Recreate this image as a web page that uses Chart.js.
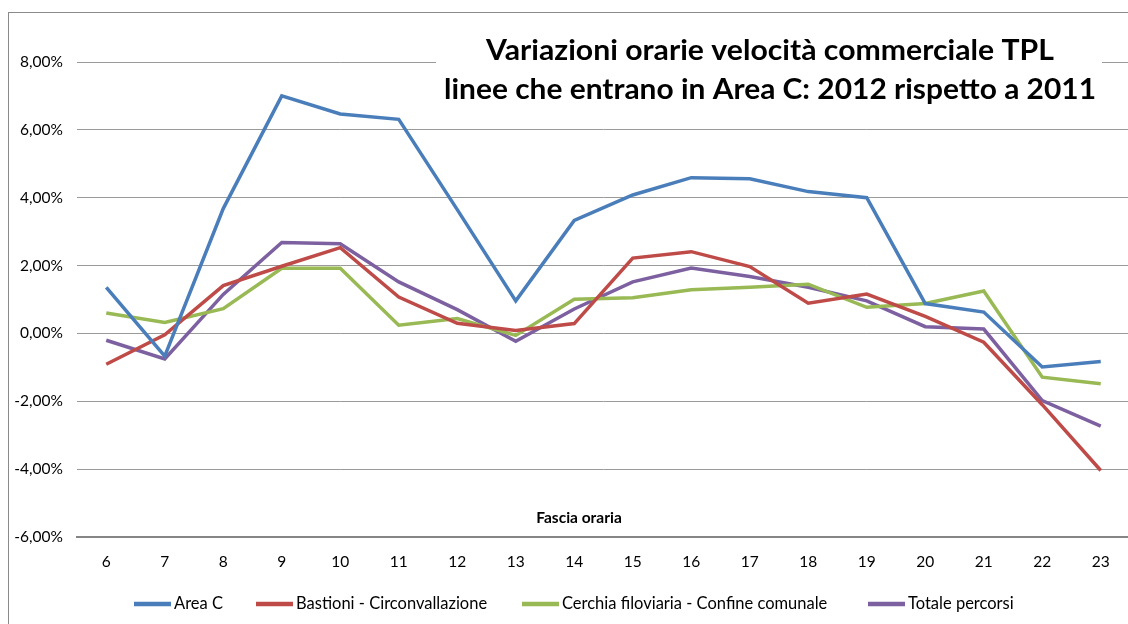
<!DOCTYPE html>
<html>
<head>
<meta charset="utf-8">
<script src="https://cdn.jsdelivr.net/npm/chart.js@4"></script>
<style>
  html, body { margin: 0; padding: 0; background: #fff; overflow: hidden; }
  #wrap { position: relative; width: 1128px; height: 624px; overflow: hidden; }
  #frame { position: absolute; left: 8px; top: 12px; width: 1200px; height: 700px;
           border-left: 1px solid #8a8a8a; border-top: 1px solid #8a8a8a; }
  canvas { position: absolute; left: 0; top: 0; }
</style>
</head>
<body>
<div id="wrap">
  <div id="frame"></div>
  <canvas id="myChart" width="1140" height="624"></canvas>
</div>
<script>
const hours = ["6", "7", "8", "9", "10", "11", "12", "13", "14", "15", "16", "17", "18", "19", "20", "21", "22", "23"];
const seriesNames = ["Area C", "Bastioni - Circonvallazione", "Cerchia filoviaria - Confine comunale", "Totale percorsi"];
const areaC = [1.36, -0.67, 3.68, 7.0, 6.47, 6.31, 3.65, 0.96, 3.33, 4.08, 4.59, 4.56, 4.18, 4.0, 0.88, 0.63, -0.99, -0.83];
const bastioni = [-0.91, -0.04, 1.41, 1.98, 2.53, 1.07, 0.3, 0.09, 0.29, 2.22, 2.41, 1.97, 0.89, 1.16, 0.5, -0.26, -2.1, -4.04];
const cerchia = [0.6, 0.32, 0.73, 1.92, 1.92, 0.24, 0.44, -0.06, 1.01, 1.05, 1.29, 1.36, 1.45, 0.77, 0.88, 1.25, -1.29, -1.48];
const totale = [-0.2, -0.75, 1.15, 2.68, 2.64, 1.52, 0.7, -0.23, 0.72, 1.52, 1.93, 1.68, 1.36, 0.96, 0.2, 0.13, -1.98, -2.73];
const yTicks = [-6, -4, -2, 0, 2, 4, 6, 8];
const titleLines = ["Variazioni orarie velocità commerciale TPL", "linee che entrano in Area C: 2012 rispetto a 2011"];
const xTitle = "Fascia oraria";

const colors = ["#4a7ebb", "#be4b48", "#98b954", "#7d60a0"];
const legendX = [134, 256, 522, 868];

const fmtPct = (v) => v.toFixed(2).replace(".", ",") + "%";

// title with white box, axis title, legend
const decorations = {
  id: "decorations",
  beforeDatasetsDraw(chart) {
    const ctx = chart.ctx;
    ctx.save();
    ctx.fillStyle = "#fff";
    ctx.fillRect(436, 22, 666, 92);
    ctx.fillStyle = "#000";
    ctx.textAlign = "center";
    ctx.textBaseline = "alphabetic";
    ctx.font = "bold 28px Lato";
    const targets = [568, 652];
    const baselines = [60, 99];
    titleLines.forEach((t, i) => {
      const w = ctx.measureText(t).width;
      const sx = targets[i] / w;
      ctx.save();
      ctx.translate(770, baselines[i]);
      ctx.scale(sx, 1);
      ctx.fillText(t, 0, 0);
      ctx.restore();
    });
    ctx.font = "bold 15.5px Lato";
    ctx.textBaseline = "middle";
    ctx.fillText(xTitle, 579, 518);
    ctx.restore();
  },
  afterDraw(chart) {
    const ctx = chart.ctx;
    ctx.save();
    ctx.font = "16.5px Lato";
    ctx.textBaseline = "middle";
    ctx.textAlign = "left";
    chart.data.datasets.forEach((ds, i) => {
      const x = legendX[i];
      ctx.strokeStyle = ds.borderColor;
      ctx.lineWidth = 4.5;
      ctx.beginPath();
      ctx.moveTo(x, 604);
      ctx.lineTo(x + 37, 604);
      ctx.stroke();
      ctx.fillStyle = "#000";
      ctx.fillText(ds.label, x + 40, 604);
    });
    ctx.restore();
  },
};

new Chart(document.getElementById("myChart"), {
  type: "line",
  data: {
    labels: hours,
    datasets: [areaC, bastioni, cerchia, totale].map((d, i) => ({
      label: seriesNames[i],
      data: d,
      borderColor: colors[i],
      backgroundColor: colors[i],
      borderWidth: 3.5,
      pointRadius: 0,
      tension: 0,
      fill: false,
    })),
  },
  options: {
    responsive: false,
    animation: false,
    devicePixelRatio: 1,
    layout: { padding: { top: 62, bottom: 39, left: 0, right: 10 } },
    plugins: {
      legend: { display: false },
      title: { display: false },
      tooltip: { enabled: false },
    },
    scales: {
      x: {
        offset: true,
        grid: { display: false, drawTicks: false },
        border: { display: true, color: "#858585", width: 2 },
        ticks: {
          color: "#000",
          font: { family: "Lato", size: 15.5 },
          padding: 16,
          maxRotation: 0,
          autoSkip: false,
        },
        afterFit(scale) { scale.height = 48; },
      },
      y: {
        min: -6,
        max: 8,
        afterBuildTicks(scale) { scale.ticks = yTicks.map((v) => ({ value: v })); },
        grid: { color: "#9a9a9a", lineWidth: 1, drawTicks: false },
        border: { display: false },
        ticks: {
          color: "#000",
          font: { family: "Lato", size: 15.5 },
          padding: 14,
          callback: (v) => fmtPct(v),
        },
        afterFit(scale) { scale.width = 77; },
      },
    },
  },
  plugins: [decorations],
});
</script>
</body>
</html>
